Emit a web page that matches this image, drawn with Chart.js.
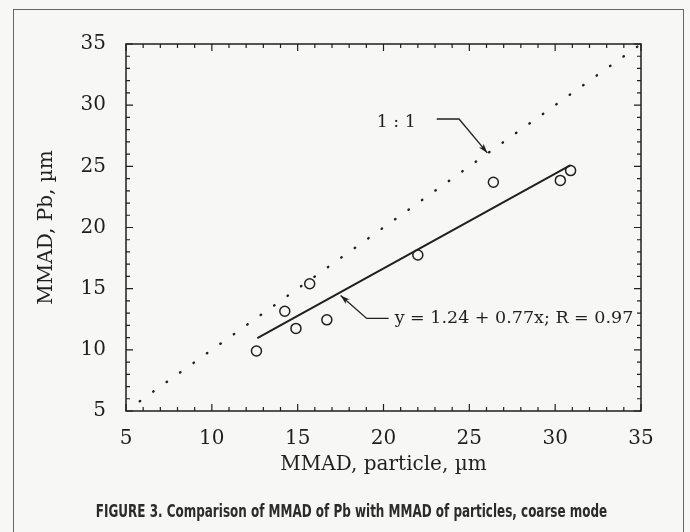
<!DOCTYPE html>
<html>
<head>
<meta charset="utf-8">
<script src="https://cdn.jsdelivr.net/npm/chart.js@4.4.1/dist/chart.umd.min.js"></script>
<style>
  html, body { margin: 0; padding: 0; background: #f7f7f5; }
  #wrap { position: relative; width: 690px; height: 532px; overflow: hidden; }
  #frame { position: absolute; left: 13px; top: 9px; width: 669px; height: 540px;
           border: 1.5px solid #666; border-bottom: none; }
  #caption { position: absolute; left: 0; width: 704px; top: 500px; text-align: center; white-space: nowrap; }
  #caption span { display: inline-block; transform: scaleX(0.74); transform-origin: center;
             font-family: "Liberation Sans Narrow", "DejaVu Sans Condensed", sans-serif;
             font-weight: bold; font-size: 18px; color: #2b2b2b; }
  canvas { position: absolute; left: 0; top: 0; }
</style>
</head>
<body>
<div id="wrap">
  <div id="frame"></div>
  <canvas id="chart" width="690" height="532"></canvas>
  <div id="caption"><span>FIGURE 3. Comparison of MMAD of Pb with MMAD of particles, coarse mode</span></div>
</div>
<script>
// measured points, coarse mode
const particleX = [12.6, 14.25, 14.9, 15.7, 16.7, 22.0, 26.4, 30.3, 30.9];
const pbY = [9.9, 13.15, 11.75, 15.4, 12.45, 17.75, 23.7, 23.85, 24.65];

// regression line  y = 1.24 + 0.77x
const fitX = [12.65, 30.9];
const fitY = [10.95, 25.1];

// 1:1 line
const oneX = [5.8, 35];
const oneY = [5.8, 35];

const axisTicks = [5, 10, 15, 20, 25, 30, 35];

const ink = "#1f1f1f";
const serif = "'DejaVu Serif', 'Liberation Serif', serif";

function pts(xs, ys) {
    return xs.map(function (x, i) { return {x: x, y: ys[i]}; });
}

// frame, inward ticks and the two labelled leaders
const extras = {
    id: "extras",
    afterDraw: function (chart) {
        const ctx = chart.ctx;
        const xs = chart.scales.x, ys = chart.scales.y;
        const a = chart.chartArea;
        const X = function (v) { return xs.getPixelForValue(v); };
        const Y = function (v) { return ys.getPixelForValue(v); };
        ctx.save();
        ctx.strokeStyle = ink;
        ctx.fillStyle = ink;
        ctx.lineWidth = 1.5;
        ctx.strokeRect(a.left, a.top, a.right - a.left, a.bottom - a.top);

        ctx.lineWidth = 1.2;
        for (let v = 5; v <= 35; v++) {
            const len = (v % 5 === 0) ? 7 : 4;
            const px = X(v), py = Y(v);
            ctx.beginPath();
            ctx.moveTo(px, a.bottom); ctx.lineTo(px, a.bottom - len);
            ctx.moveTo(px, a.top); ctx.lineTo(px, a.top + len);
            ctx.moveTo(a.left, py); ctx.lineTo(a.left + len, py);
            ctx.moveTo(a.right, py); ctx.lineTo(a.right - len, py);
            ctx.stroke();
        }

        function arrow(path) {
            ctx.beginPath();
            ctx.moveTo(X(path[0][0]), Y(path[0][1]));
            for (let i = 1; i < path.length; i++) ctx.lineTo(X(path[i][0]), Y(path[i][1]));
            ctx.stroke();
            const n = path.length;
            const tx = X(path[n - 1][0]), ty = Y(path[n - 1][1]);
            const fx = X(path[n - 2][0]), fy = Y(path[n - 2][1]);
            const ang = Math.atan2(ty - fy, tx - fx);
            ctx.beginPath();
            ctx.moveTo(tx, ty);
            ctx.lineTo(tx - 10 * Math.cos(ang - 0.3), ty - 10 * Math.sin(ang - 0.3));
            ctx.lineTo(tx - 7 * Math.cos(ang), ty - 7 * Math.sin(ang));
            ctx.lineTo(tx - 10 * Math.cos(ang + 0.3), ty - 10 * Math.sin(ang + 0.3));
            ctx.closePath();
            ctx.fill();
        }
        ctx.lineWidth = 1.3;
        arrow([[23.1, 28.87], [24.4, 28.87], [26.05, 26.1]]);
        arrow([[20.3, 12.57], [19.02, 12.57], [17.5, 14.45]]);

        ctx.font = "17.5px " + serif;
        ctx.textBaseline = "middle";
        ctx.textAlign = "left";
        ctx.fillText("1 : 1", X(19.6), Y(28.55));
        ctx.fillText("y = 1.24 + 0.77x; R = 0.97", X(20.65), Y(12.55));
        ctx.restore();
    }
};

const ctx = document.getElementById("chart").getContext("2d");
const chart = new Chart(ctx, {
    type: "scatter",
    data: {
        datasets: [{
            label: "1:1",
            data: pts(oneX, oneY),
            showLine: true,
            borderColor: ink,
            borderWidth: 2.4,
            borderDash: [0.5, 16],
            borderCapStyle: "round",
            pointRadius: 0
        }, {
            label: "fit",
            data: pts(fitX, fitY),
            showLine: true,
            borderColor: ink,
            borderWidth: 2,
            pointRadius: 0
        }, {
            label: "MMAD",
            data: pts(particleX, pbY),
            pointRadius: 5,
            pointBorderWidth: 1.5,
            pointBorderColor: ink,
            pointBackgroundColor: "rgba(0,0,0,0)"
        }]
    },
    options: {
        responsive: false,
        animation: false,
        layout: {padding: {left: 0, top: 44, right: 49, bottom: 0}},
        plugins: {legend: {display: false}, tooltip: {enabled: false}},
        scales: {
            x: {
                type: "linear", min: 5, max: 35,
                afterBuildTicks: function (s) { s.ticks = axisTicks.map(function (v) { return {value: v}; }); },
                afterFit: function (s) { s.height = 121; },
                grid: {display: false, drawTicks: false},
                border: {display: false},
                ticks: {color: ink, padding: 16, font: {family: serif, size: 20}},
                title: {display: true, text: "MMAD, particle, µm", color: ink,
                        font: {family: serif, size: 20}, padding: {top: 0, bottom: 55}}
            },
            y: {
                type: "linear", min: 5, max: 35,
                afterBuildTicks: function (s) { s.ticks = axisTicks.map(function (v) { return {value: v}; }); },
                afterFit: function (s) { s.width = 126; },
                grid: {display: false, drawTicks: false},
                border: {display: false},
                ticks: {color: ink, padding: 20, font: {family: serif, size: 20}},
                title: {display: true, text: "MMAD, Pb, µm", color: ink,
                        font: {family: serif, size: 20}, padding: {top: 35, bottom: 0}}
            }
        }
    },
    plugins: [extras]
});
</script>
</body>
</html>
